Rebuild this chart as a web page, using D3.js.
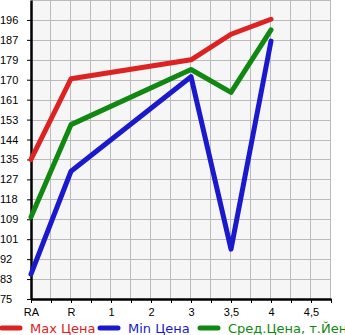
<!DOCTYPE html>
<html>
<head>
<meta charset="utf-8">
<script src="https://cdn.jsdelivr.net/npm/d3@7"></script>
<style>
  body { margin: 0; background: #fff; }
  svg { display: block; font-family: "DejaVu Sans", sans-serif; }
</style>
</head>
<body>
<div id="chart"></div>
<script>
// categories along the bottom (half steps are only minor ticks)
const categories = ["RA", "R", "1", "2", "3", "3,5", "4", "4,5"];
const yTickLabels = ["75", "83", "92", "101", "109", "118", "127", "135", "144", "153", "161", "170", "179", "187", "196"];

// points exist only for these categories
const pointCats = ["RA", "R", "3", "3,5", "4"];
const maxPrice = [135.5, 170.5, 178.7, 189.8, 196.3];
const minPrice = [85.8, 130.4, 171.4, 96.6, 186.8];
const avgPrice = [110.6, 150.6, 174.5, 164.6, 191.7];

const seriesNames = ["Max Цена", "Min Цена", "Сред.Цена, т.Йен"];
const seriesColors = ["#dd2222", "#1a1acc", "#118811"];

const W = 345, H = 335;
const plot = { left: 31, right: 331, top: 0, bottom: 299 };
const yStep = (196 - 75) / 14;

const svg = d3.select("#chart").append("svg")
    .attr("width", W)
    .attr("height", H);

const x = d3.scaleLinear().domain([0, 7.5]).range([plot.left, plot.right]);
const y = d3.scaleLinear().domain([75, 75 + 15 * yStep]).range([plot.bottom, plot.top]);

// plot background
svg.append("rect")
    .attr("x", plot.left).attr("y", plot.top)
    .attr("width", plot.right - plot.left).attr("height", plot.bottom - plot.top)
    .attr("fill", "#f6f6f6");

// grid
const gx = d3.range(1, 16).map(i => i * 0.5);
svg.append("g").selectAll("line").data(gx).enter().append("line")
    .attr("x1", d => Math.round(x(d)) - 0.5).attr("x2", d => Math.round(x(d)) - 0.5)
    .attr("y1", plot.top).attr("y2", plot.bottom)
    .attr("stroke", "#bbbbbb");

const gyVals = d3.range(1, 16).map(i => 75 + i * yStep);
svg.append("g").selectAll("line").data(gyVals).enter().append("line")
    .attr("x1", plot.left).attr("x2", plot.right)
    .attr("y1", d => Math.round(y(d)) + 0.5).attr("y2", d => Math.round(y(d)) + 0.5)
    .attr("stroke", "#bbbbbb");

// y axis
const yAxis = svg.append("g")
    .attr("transform", `translate(${plot.left},0)`)
    .call(d3.axisLeft(y)
        .tickValues(d3.range(15).map(i => 75 + i * yStep))
        .tickFormat((d, i) => yTickLabels[i])
        .tickSize(4).tickSizeOuter(0));
yAxis.select(".domain").attr("stroke-width", 2.5);
yAxis.selectAll("text")
    .attr("x", -31).attr("text-anchor", "start")
    .style("font-size", "11px").attr("fill", "#000");

// x axis
const xAxis = svg.append("g")
    .attr("transform", `translate(0,${plot.bottom})`)
    .call(d3.axisBottom(x)
        .tickValues(d3.range(16).map(i => i * 0.5))
        .tickFormat(d => Number.isInteger(d) ? categories[d] : "")
        .tickSize(4).tickSizeOuter(0));
xAxis.select(".domain").attr("stroke-width", 2.5);
xAxis.selectAll("text")
    .attr("y", 9)
    .style("font-size", "11px").attr("fill", "#000");

// lines
const series = [maxPrice, minPrice, avgPrice];
const line = d3.line()
    .x((d, i) => x(categories.indexOf(pointCats[i])))
    .y(d => y(d));

series.forEach((vals, k) => {
    svg.append("path")
        .datum(vals)
        .attr("d", line)
        .attr("fill", "none")
        .attr("stroke", seriesColors[k])
        .attr("stroke-width", 5)
        .attr("stroke-linejoin", "round")
        .attr("stroke-linecap", "round");
});

// legend
const legendX = [0, 98, 198];
const legend = svg.selectAll(".legend")
    .data(seriesNames)
    .enter().append("g")
    .attr("class", "legend")
    .attr("transform", (d, i) => `translate(${legendX[i]},328)`);

legend.append("line")
    .attr("x1", 2).attr("x2", 20)
    .attr("y1", 0).attr("y2", 0)
    .attr("stroke", (d, i) => seriesColors[i])
    .attr("stroke-width", 5)
    .attr("stroke-linecap", "round");

legend.append("text")
    .attr("x", 30)
    .attr("y", 5)
    .style("font-size", "13px")
    .attr("fill", (d, i) => seriesColors[i])
    .text(d => d);
</script>
</body>
</html>
